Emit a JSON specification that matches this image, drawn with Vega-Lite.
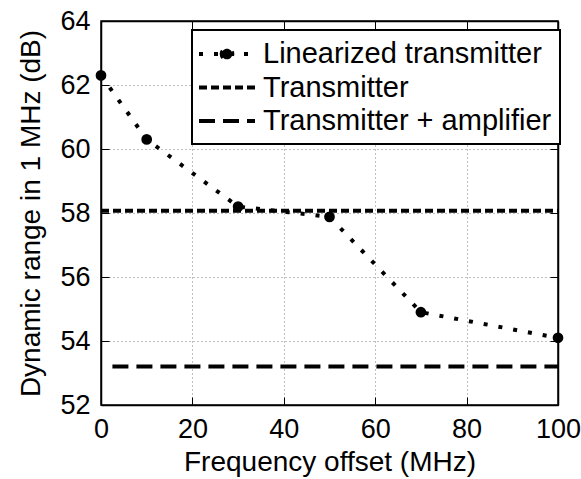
{
  "$schema": "https://vega.github.io/schema/vega-lite/v6.json",
  "width": 457,
  "height": 384,
  "autosize": {"type": "none"},
  "padding": {"left": 101, "top": 21, "right": 23, "bottom": 74},
  "background": "white",
  "view": {"stroke": "black", "strokeWidth": 1.5, "fill": "white"},
  "config": {
    "font": "Arial",
    "axis": {
      "labelFont": "Arial", "labelFontSize": 27, "labelColor": "black", "labelFlush": false,
      "titleFont": "Arial", "titleFontSize": 28, "titleFontWeight": "normal", "titleColor": "black",
      "domain": true, "domainColor": "black", "domainWidth": 1.5,
      "tickColor": "black", "tickWidth": 1,
      "gridColor": "#808080", "gridDash": [1, 3], "gridWidth": 1
    }
  },
  "data": {
    "values": [
      {"series": "Linearized transmitter", "x": 0, "y": 62.3},
      {"series": "Linearized transmitter", "x": 10, "y": 60.3},
      {"series": "Linearized transmitter", "x": 30, "y": 58.2},
      {"series": "Linearized transmitter", "x": 50, "y": 57.88},
      {"series": "Linearized transmitter", "x": 70, "y": 54.9},
      {"series": "Linearized transmitter", "x": 100, "y": 54.1},
      {"series": "Transmitter", "x": 0, "y": 58.07},
      {"series": "Transmitter", "x": 100, "y": 58.07},
      {"series": "Transmitter + amplifier", "x": 2.5, "y": 53.2},
      {"series": "Transmitter + amplifier", "x": 100, "y": 53.2}
    ]
  },
  "resolve": {"axis": {"x": "independent", "y": "independent"}},
  "layer": [
    {
      "mark": {"type": "line", "color": "black", "strokeWidth": 4, "clip": false},
      "encoding": {
        "x": {
          "field": "x", "type": "quantitative",
          "scale": {"domain": [0, 100], "nice": false},
          "axis": {"title": "Frequency offset (MHz)", "values": [0, 20, 40, 60, 80, 100], "grid": true, "tickSize": -8, "labelPadding": 19, "titlePadding": 6}
        },
        "y": {
          "field": "y", "type": "quantitative",
          "scale": {"domain": [52, 64], "nice": false, "zero": false},
          "axis": {"title": "Dynamic range in 1 MHz (dB)", "values": [52, 54, 56, 58, 60, 62, 64], "grid": true, "tickSize": -8, "labelPadding": 19, "titlePadding": 14}
        },
        "strokeDash": {
          "field": "series", "type": "nominal",
          "scale": {"domain": ["Linearized transmitter", "Transmitter", "Transmitter + amplifier"], "range": [[4, 11], [8, 4], [16, 8]]},
          "legend": {
            "title": null, "orient": "none", "legendX": 91, "legendY": 9,
            "direction": "vertical", "columns": 1, "columnPadding": 0,
            "symbolType": "M-2,0H2", "symbolSize": 784, "symbolStrokeWidth": 4, "symbolStrokeColor": "black",
            "symbolOffset": 11,
            "labelFont": "Arial", "labelFontSize": 29, "labelColor": "black", "labelOffset": 20, "labelLimit": 0,
            "strokeColor": "black", "fillColor": "white", "padding": 8, "rowPadding": 2.5,
            "encode": {
              "legend": {"update": {"strokeWidth": {"value": 2}}},
              "symbols": {"update": {
                "shape": {"signal": "datum.value === 'Linearized transmitter' ? 'M-2,0H2M-0.38,0A0.38,0.38 0 1,0 0.38,0A0.38,0.38 0 1,0 -0.38,0' : 'M-2,0H2'"},
                "fill": {"signal": "datum.value === 'Linearized transmitter' ? 'black' : 'transparent'"},
                "stroke": {"value": "black"},
                "strokeWidth": {"value": 4},
                "opacity": {"value": 1},
                "strokeOpacity": {"value": 1}
              }}
            }
          }
        }
      }
    },
    {
      "transform": [{"filter": "datum.series === 'Linearized transmitter'"}],
      "mark": {"type": "point", "filled": true, "color": "black", "opacity": 1, "size": 115, "clip": false},
      "encoding": {
        "x": {"field": "x", "type": "quantitative", "axis": {"orient": "top", "labels": false, "title": null, "grid": false, "ticks": true, "tickSize": -8, "values": [0, 20, 40, 60, 80, 100]}},
        "y": {"field": "y", "type": "quantitative", "axis": {"orient": "right", "labels": false, "title": null, "grid": false, "ticks": true, "tickSize": -8, "values": [52, 54, 56, 58, 60, 62, 64]}}
      }
    }
  ]
}
